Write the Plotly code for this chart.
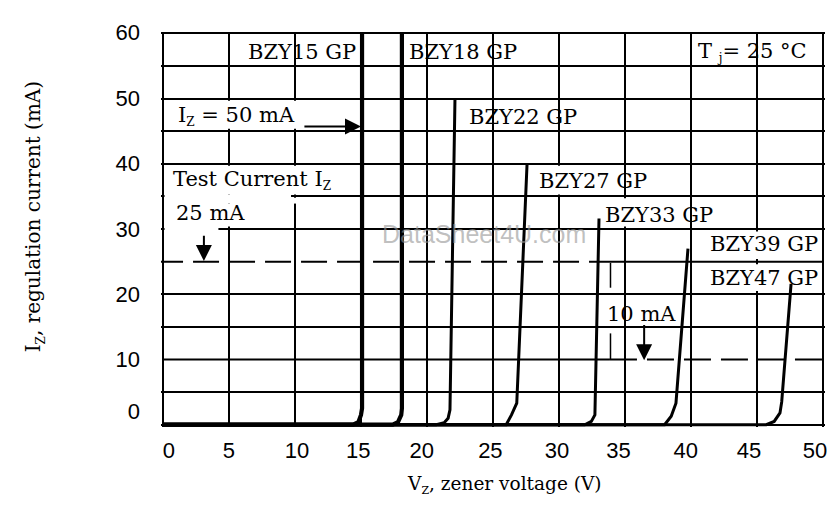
import plotly.graph_objects as go

# ---------------- data ----------------
series_names = ["BZY15 GP", "BZY18 GP", "BZY22 GP", "BZY27 GP",
                "BZY33 GP", "BZY39 GP", "BZY47 GP"]

v_bzy15 = [0, 14.4, 14.8, 15.0, 15.08, 15.08]
i_bzy15 = [0, 0, 0.4, 1.5, 2.5, 60]
v_bzy18 = [0, 17.4, 17.8, 18.05, 18.1, 18.1]
i_bzy18 = [0, 0, 0.4, 1.5, 2.5, 60]
v_bzy22 = [0, 20.7, 21.3, 21.6, 21.74, 22.12]
i_bzy22 = [0, 0, 0.3, 1.0, 2.3, 50]
v_bzy27 = [0, 26.0, 26.4, 26.8, 27.58]
i_bzy27 = [0, 0, 1.5, 3.3, 40]
v_bzy33 = [0, 31.95, 32.45, 32.72, 33.03]
i_bzy33 = [0, 0, 0.5, 1.5, 31.6]
v_bzy39 = [0, 38.0, 38.5, 38.86, 39.77]
i_bzy39 = [0, 0, 1.3, 3.3, 27.0]
v_bzy47 = [0, 45.7, 46.3, 46.74, 46.87, 47.58]
i_bzy47 = [0, 0, 0.5, 1.8, 3.5, 21.6]

# test-current reference levels (mA) and where dashed/solid switch (V)
test_current_high = 25
test_current_low = 10
switch_high_v = 33.0
switch_low_v = 33.86

# axis grid and tick labels
x_grid = [0, 5, 10, 15, 20, 25, 30, 35, 40, 45, 50]
y_grid = [0, 5, 15, 20, 30, 35, 40, 45, 50, 55, 60]
x_tick_labels = ["0", "5", "10", "15", "20", "25", "30", "35", "40", "45", "50"]
x_tick_pos = [0.45, 5.0, 10.15, 14.8, 19.6, 24.8, 29.85, 34.5, 39.6, 44.4, 49.4]
y_tick_labels = ["0", "10", "20", "30", "40", "50", "60"]
y_tick_pos = [2.0, 10, 20, 30, 40, 50, 60.15]

# ---------------- figure ----------------
curves_v = [v_bzy15, v_bzy18, v_bzy22, v_bzy27, v_bzy33, v_bzy39, v_bzy47]
curves_i = [i_bzy15, i_bzy18, i_bzy22, i_bzy27, i_bzy33, i_bzy39, i_bzy47]
widths = [4.2, 4.2, 3, 3, 3, 3, 3]

XR = [-0.15, 50.15]
YR = [-0.35, 60.2]

fig = go.Figure()

# test current lines
fig.add_trace(go.Scatter(x=[-0.45, switch_high_v], y=[test_current_high] * 2, mode="lines",
                         line=dict(color="black", width=2, dash="26px,10px"),
                         showlegend=False, hoverinfo="skip"))
fig.add_trace(go.Scatter(x=[switch_high_v, 50], y=[test_current_high] * 2, mode="lines",
                         line=dict(color="black", width=2), showlegend=False, hoverinfo="skip"))
fig.add_trace(go.Scatter(x=[0, switch_low_v], y=[test_current_low] * 2, mode="lines",
                         line=dict(color="black", width=2), showlegend=False, hoverinfo="skip"))
fig.add_trace(go.Scatter(x=[switch_low_v, 50.2], y=[test_current_low] * 2, mode="lines",
                         line=dict(color="black", width=2, dash="27px,10px"),
                         showlegend=False, hoverinfo="skip"))
# small separators at the switch voltage
fig.add_trace(go.Scatter(x=[33.9, 33.9, None, 33.9, 33.9], y=[24.8, 21.0, None, 14.0, 10.0],
                         mode="lines", line=dict(color="black", width=1.5),
                         showlegend=False, hoverinfo="skip"))

for name, vv, ii, w in zip(series_names, curves_v, curves_i, widths):
    fig.add_trace(go.Scatter(x=vv, y=ii, mode="lines", name=name,
                             line=dict(color="black", width=w),
                             showlegend=False))

# dummy trace for label axes
fig.add_trace(go.Scatter(x=[None], y=[None], xaxis="x2", yaxis="y2", showlegend=False))

# white masks behind text boxes
masks = [
    (0.12, 10.5, 45.35, 49.65),
    (0.12, 12.4, 35.3, 39.7),
    (0.12, 9.7, 33.9, 35.3),
    (9.7, 10.4, 33.9, 34.8),
    (0.12, 5.3, 30.4, 33.9),
    (0.12, 4.2, 29.6, 30.4),
    (28.2, 33.1, 35.3, 39.7),
    (33.3, 39.2, 30.4, 34.7),
    (41.3, 49.8, 25.4, 29.6),
    (41.3, 46.5, 20.5, 24.6),
]
for x0, x1, y0, y1 in masks:
    fig.add_shape(type="rect", xref="x", yref="y", x0=x0, x1=x1, y0=y0, y1=y1,
                  fillcolor="white", line=dict(width=0), layer="above")

SERIF = "DejaVu Serif"
lab_font = dict(family=SERIF, size=21, color="black")


def sub(t, size=12):
    return "<sub><span style='font-size:%dpx'>%s</span></sub>" % (size, t)


label_pos = {
    "BZY15 GP": (6.3, 57.1),
    "BZY18 GP": (18.45, 57.1),
    "BZY22 GP": (23.0, 47.1),
    "BZY27 GP": (28.3, 37.4),
    "BZY33 GP": (33.3, 32.2),
    "BZY39 GP": (41.25, 27.65),
    "BZY47 GP": (41.25, 22.5),
}
ann = []
for name in series_names:
    x, y = label_pos[name]
    ann.append(dict(x=x, y=y, xref="x", yref="y", text=name, showarrow=False,
                    xanchor="left", yanchor="middle", font=lab_font))

ARROW = dict(xref="x", yref="y", axref="x", ayref="y", text="", showarrow=True,
             arrowhead=2, arrowsize=1.6, arrowwidth=2, standoff=0, arrowcolor="black")

ann += [
    dict(x=40.35, y=57.1, xref="x", yref="y", text="T " + sub("j") + "= 25 °C", showarrow=False,
         xanchor="left", yanchor="middle", font=lab_font),
    dict(x=1.0, y=47.4, xref="x", yref="y", text="I" + sub("Z") + " = 50 mA", showarrow=False,
         xanchor="left", yanchor="middle", font=lab_font),
    dict(x=0.6, y=37.5, xref="x", yref="y", text="Test Current I" + sub("Z"), showarrow=False,
         xanchor="left", yanchor="middle", font=lab_font),
    dict(x=0.8, y=32.4, xref="x", yref="y", text="25 mA", showarrow=False,
         xanchor="left", yanchor="middle", font=lab_font),
    dict(x=33.5, y=17.0, xref="x", yref="y", text="10 mA", showarrow=False,
         xanchor="left", yanchor="middle", font=lab_font),
    dict(x=24.3, y=29.3, xref="x", yref="y", text="DataSheet4U.com", showarrow=False,
         xanchor="center", yanchor="middle",
         font=dict(family="Liberation Sans", size=25, color="rgba(150,150,150,0.6)")),
    # arrows
    dict(x=15.0, y=45.7, ax=10.6, ay=45.7, **ARROW),
    dict(x=3.1, y=25.1, ax=3.1, ay=29.2, **ARROW),
    dict(x=36.45, y=9.9, ax=36.45, ay=15.5, **ARROW),
    # axis titles
    dict(x=-0.19, y=0.533, xref="paper", yref="paper",
         text="I" + sub("Z", 12) + ", regulation current (mA)",
         showarrow=False, textangle=-90, xanchor="center", yanchor="middle",
         font=dict(family=SERIF, size=20, color="black")),
    dict(x=0.5166, y=-0.1457, xref="paper", yref="paper",
         text="V" + sub("Z", 11) + ", zener voltage (V)",
         showarrow=False, xanchor="center", yanchor="middle",
         font=dict(family=SERIF, size=18.5, color="black")),
]

tick_font = dict(family="Liberation Sans", size=22, color="black")

# the page body adds an 8 px offset, so the figure is sized to fit the window
fig.update_layout(
    width=831, height=513,
    margin=dict(l=153, r=14, t=21, b=94),
    paper_bgcolor="white", plot_bgcolor="white",
    showlegend=False,
    annotations=ann,
    xaxis=dict(range=XR, tickmode="array", tickvals=x_grid, showticklabels=False,
               showgrid=True, gridcolor="black", gridwidth=2, zeroline=False,
               showline=False, ticks=""),
    yaxis=dict(range=YR, tickmode="array", tickvals=y_grid, showticklabels=False,
               showgrid=True, gridcolor="black", gridwidth=2, zeroline=False,
               showline=False, ticks=""),
    xaxis2=dict(range=XR, overlaying="x", anchor="y", side="bottom",
                tickmode="array", tickvals=x_tick_pos, ticktext=x_tick_labels,
                showgrid=False, zeroline=False, showline=False, ticks="",
                tickfont=tick_font, ticklabelstandoff=8),
    yaxis2=dict(range=YR, overlaying="y", anchor="x", side="left",
                tickmode="array", tickvals=y_tick_pos, ticktext=y_tick_labels,
                showgrid=False, zeroline=False, showline=False, ticks="",
                tickfont=tick_font, ticklabelstandoff=20),
)

fig.write_html("out.html")
